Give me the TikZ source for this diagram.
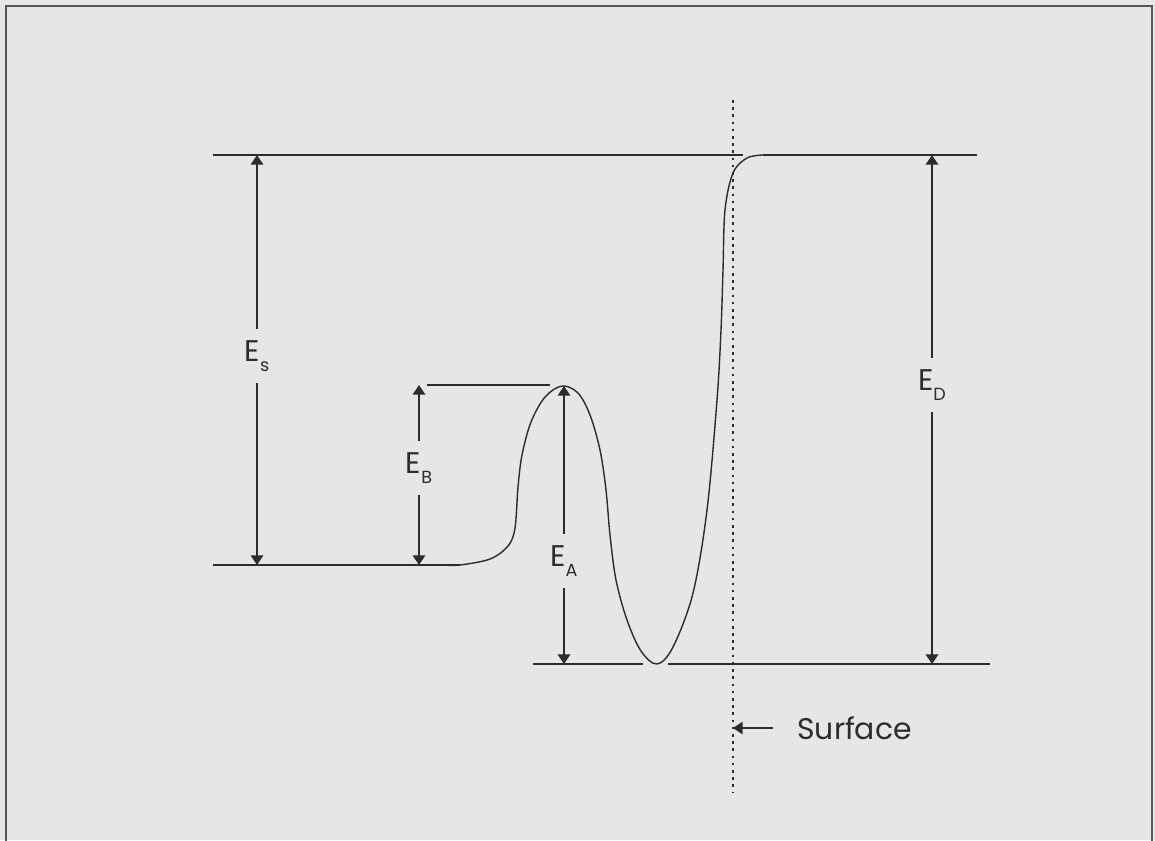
\documentclass[tikz,border=0pt]{standalone}
\usepackage{fontspec}
\setmainfont{Poppins}
\usepackage{xcolor}
\usepackage{tikz}
\usetikzlibrary{arrows.meta}

\definecolor{paper}{HTML}{E6E6E6}
\definecolor{ink}{HTML}{2C2C2C}
\newcommand{\elab}[2]{#1\raisebox{-0.6ex}{\fontsize{10}{10}\selectfont #2}}

\begin{document}
\begin{tikzpicture}[x=0.02cm, y=-0.02cm,
  level/.style={draw=ink, line width=0.8pt},
  dim/.style={draw=ink, line width=1.5pt, -{Triangle[length=5.5pt, width=7pt]}},
  elabel/.style={font=\fontsize{17}{17}\selectfont, text=ink, inner sep=0pt, minimum height=1.06cm}]
  \useasboundingbox (0,0) rectangle (1155,840);
  \fill [paper] (0,0) rectangle (1155,840);
  \draw [line width=1.1pt, draw=ink!80] (6,842) -- (6,6) -- (1152,6) -- (1152,842);

  % levels
  \draw [level] (213,155) -- (743,155);
  \draw [level] (763,155) -- (977,155);
  \draw [level] (427,385) -- (550,385);
  \draw [level] (213,565) -- (460,565);
  \draw [level] (533,664) -- (643,664);
  \draw [level] (668,664) -- (990,664);

  % potential curve
  \draw [level] plot [smooth, tension=0.55] coordinates {
    (445,565) (460,565) (490,559) (508,546) (515,528) (518,487) (522,455)
    (531,422) (545,397) (562,386) (578,393) (590,415) (600,450) (606,490)
    (610,535) (616,580) (627,620) (641,651) (657,664) (673,647)
    (693,593) (707,510) (717,400) (721,330) (723,270) (725,210) (733,173)
    (747,158) (763,155)};

  % surface
  \coordinate (surf top) at (733,100);
  \coordinate (surf bot) at (733,792);
  \draw [draw=ink, line width=1.5pt, dash pattern=on 1.5pt off 2.6pt] (surf top) -- (surf bot);
  \node (surface) [elabel, minimum height=0pt, anchor=west, inner xsep=0.48cm] at (773,728) {Surface};
  \draw [dim, line width=1.3pt] (surface.west) -- (surface.west -| surf top);

  % energies
  \coordinate (es top) at (257,155);
  \coordinate (es bot) at (257,565);
  \node (es) [elabel] at (257,356) {\elab{E}{s}};
  \draw [dim] (es) -- (es top);
  \draw [dim] (es) -- (es bot);

  \coordinate (eb top) at (419,385);
  \coordinate (eb bot) at (419,565);
  \node (eb) [elabel] at (419,468) {\elab{E}{B}};
  \draw [dim] (eb) -- (eb top);
  \draw [dim] (eb) -- (eb bot);

  \coordinate (ea top) at (564,386);
  \coordinate (ea bot) at (564,664);
  \node (ea) [elabel] at (564,561) {\elab{E}{A}};
  \draw [dim] (ea) -- (ea top);
  \draw [dim] (ea) -- (ea bot);

  \coordinate (ed top) at (932,155);
  \coordinate (ed bot) at (932,664);
  \node (ed) [elabel] at (932,385) {\elab{E}{D}};
  \draw [dim] (ed) -- (ed top);
  \draw [dim] (ed) -- (ed bot);
\end{tikzpicture}
\end{document}
